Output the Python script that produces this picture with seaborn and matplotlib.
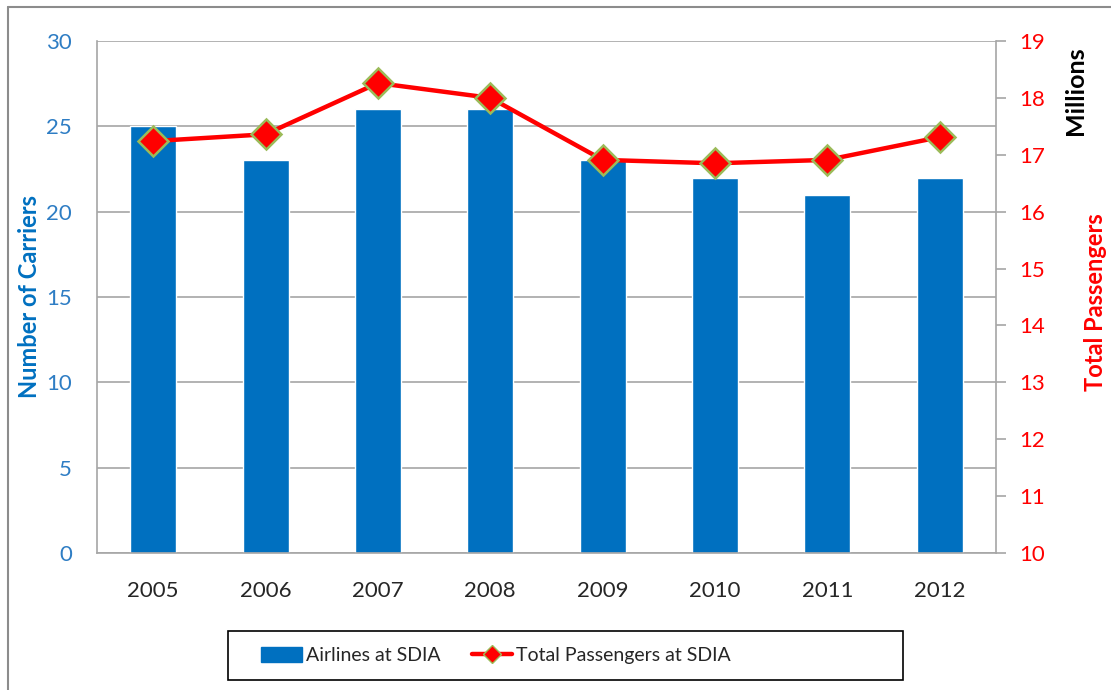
import matplotlib
matplotlib.use('Agg')
import matplotlib.pyplot as plt
from matplotlib.lines import Line2D
from matplotlib.patches import Patch, Rectangle
import numpy as np
import pandas as pd
import seaborn as sns

sns.set_style('white')
plt.rcParams['font.family'] = ['Lato', 'DejaVu Sans']

# data
years = ['2005', '2006', '2007', '2008', '2009', '2010', '2011', '2012']
carriers = [25, 23, 26, 26, 23, 22, 21, 22]
passengers = [17.24, 17.36, 18.26, 18.0, 16.91, 16.85, 16.91, 17.31]  # millions

blue = '#0070C0'
red = '#FF0000'
grid_c = '#A6A6A6'

df = pd.DataFrame({'year': years, 'carriers': carriers, 'passengers': passengers})

fig = plt.figure(figsize=(11.11, 6.9), dpi=100)
ax = fig.add_axes([0.0873, 0.1986, 0.8092, 0.742])

sns.barplot(data=df, x='year', y='carriers', color=blue, width=0.41,
            saturation=1, ax=ax, zorder=2)
ax.set_ylim(0, 30)
ax.set_yticks(range(0, 31, 5))
ax.set_xlim(-0.5, 7.5)
ax.yaxis.grid(True, color=grid_c, lw=1.2, zorder=0)
ax.set_axisbelow(True)
for s in ['top', 'right']:
    ax.spines[s].set_visible(False)
for s in ['left', 'bottom']:
    ax.spines[s].set_color(grid_c)
    ax.spines[s].set_linewidth(1.2)
ax.tick_params(axis='y', colors='#2E7DC4', labelsize=16, length=0, pad=18)
ax.tick_params(axis='x', colors='#262626', labelsize=16, length=0, pad=20)
ax.set_xlabel('')
ax.set_ylabel('')
fig.text(0.027, 0.5696, 'Number of Carriers', rotation=90, ha='center', va='center',
         fontsize=17, fontweight='bold', color=blue)

ax2 = ax.twinx()
sns.lineplot(x=np.arange(len(years)), y=passengers, ax=ax2, color=red, lw=3.2,
             marker='D', markersize=15, markerfacecolor=red,
             markeredgecolor='#9BBB59', markeredgewidth=1.8, zorder=3)
ax2.set_ylim(10, 19)
ax2.set_yticks(range(10, 20))
for s in ['top', 'left', 'bottom']:
    ax2.spines[s].set_visible(False)
ax2.spines['right'].set_color(grid_c)
ax2.spines['right'].set_linewidth(1.2)
ax2.tick_params(axis='y', colors=grid_c, labelcolor=red, labelsize=16,
                length=7, width=1.2, pad=10)
ax2.set_ylabel('')
fig.text(0.9856, 0.562, 'Total Passengers', rotation=90, ha='center', va='center',
         fontsize=17, fontweight='bold', color=red)
fig.text(0.9676, 0.868, 'Millions', rotation=90, ha='center', va='center',
         fontsize=18, fontweight='bold', color='black')

# legend: contents without frame, box drawn separately (Excel style)
handles = [Patch(facecolor=blue, edgecolor=blue),
           Line2D([], [], color=red, lw=3.2, marker='D', markersize=9,
                  markerfacecolor=red, markeredgecolor='#9BBB59')]
fig.legend(handles, ['Airlines at SDIA', 'Total Passengers at SDIA'],
           loc='center left', bbox_to_anchor=(0.235, 0.05), ncol=2,
           fontsize=14, frameon=False, handlelength=2.1, handleheight=0.8,
           columnspacing=1.6, borderpad=0, borderaxespad=0, handletextpad=0.2)
fig.add_artist(Rectangle((228 / 1111, 1 - 680 / 690), 675 / 1111, 49 / 690,
                         transform=fig.transFigure, fill=False,
                         edgecolor='black', lw=1.2))

# outer frame of the chart (top and left edges visible)
fig.add_artist(Line2D([0.0072, 1], [0.9899, 0.9899], color='#8C8C8C', lw=1.5))
fig.add_artist(Line2D([0.0072, 0.0072], [0, 0.9899], color='#8C8C8C', lw=1.5))

fig.savefig('out.png', dpi=100)
